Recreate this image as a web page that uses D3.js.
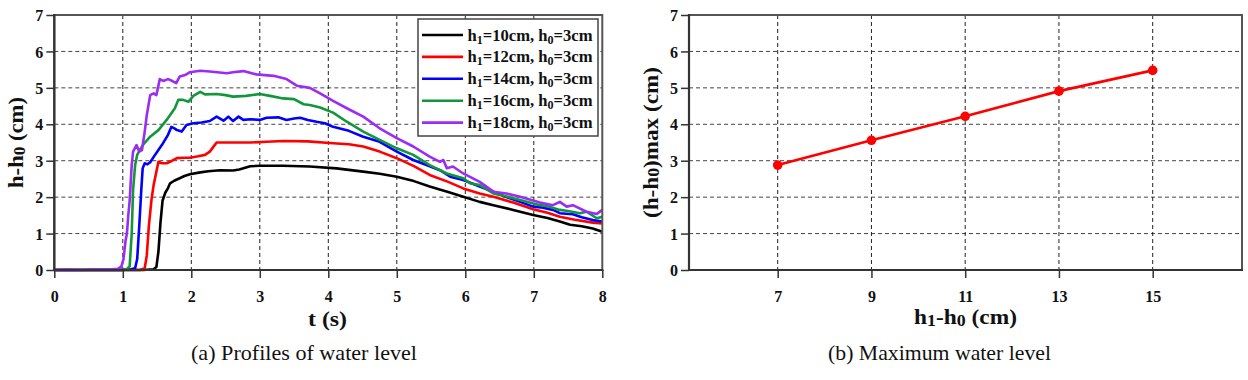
<!DOCTYPE html>
<html><head><meta charset="utf-8">
<script src="https://cdn.jsdelivr.net/npm/d3@7"></script>
<style>
body{margin:0;background:#fff}
svg{display:block}
text{font-family:"Liberation Serif","Times New Roman","Tinos","DejaVu Serif",serif}
</style>
</head><body>
<svg id="c" width="1248" height="380"></svg>
<script>
// ---------- data ----------
const h1Values = [10, 12, 14, 16, 18];
const seriesColors = ["#000000", "#ff0000", "#0000ff", "#12963c", "#9b2cf5"];

const tH10 = [0,0.5,1.0,1.3,1.45,1.49,1.52,1.55,1.58,1.62,1.66,1.69,1.75,1.83,1.9,1.98,2.13,2.25,2.42,2.61,2.7,2.86,3.0,3.34,3.73,4.12,4.51,4.75,5.0,5.25,5.48,5.75,5.97,6.21,6.41,6.7,6.99,7.2,7.38,7.53,7.7,7.86,8.0];
const hH10 = [0,0,0,0,0.02,0.08,0.5,1.3,1.9,2.12,2.25,2.38,2.45,2.52,2.58,2.63,2.68,2.71,2.74,2.73,2.76,2.85,2.86,2.86,2.84,2.79,2.70,2.64,2.56,2.44,2.29,2.14,2.01,1.87,1.78,1.65,1.51,1.43,1.33,1.24,1.2,1.14,1.05];

const tH12 = [0,1.0,1.25,1.32,1.35,1.38,1.42,1.45,1.49,1.52,1.57,1.64,1.72,1.79,1.9,1.98,2.1,2.2,2.27,2.33,2.37,2.5,2.86,3.1,3.34,3.7,4.07,4.3,4.51,4.75,5.0,5.25,5.48,5.75,5.97,6.21,6.41,6.7,6.99,7.2,7.38,7.6,7.86,8.0];
const hH12 = [0,0,0,0.05,0.4,1.2,1.95,2.33,2.7,2.97,2.93,2.93,3.0,3.07,3.08,3.08,3.12,3.16,3.25,3.4,3.5,3.5,3.5,3.52,3.54,3.53,3.48,3.45,3.39,3.25,3.07,2.85,2.61,2.42,2.24,2.1,2.01,1.85,1.67,1.57,1.46,1.38,1.30,1.28];

const tH14 = [0,1.0,1.12,1.18,1.21,1.24,1.27,1.29,1.32,1.36,1.40,1.47,1.57,1.66,1.71,1.76,1.79,1.86,1.93,2.03,2.15,2.27,2.37,2.47,2.54,2.61,2.69,2.76,2.86,3.0,3.1,3.27,3.39,3.5,3.59,3.7,3.83,3.95,4.07,4.3,4.51,4.75,5.0,5.24,5.48,5.63,5.78,5.97,6.21,6.41,6.6,6.8,6.99,7.1,7.28,7.38,7.57,7.7,7.86,8.0];
const hH14 = [0,0,0.02,0.05,0.3,1.2,2.2,2.79,2.93,2.9,2.96,3.16,3.43,3.71,3.93,3.88,3.84,3.80,3.98,4.03,4.05,4.09,4.21,4.10,4.21,4.09,4.21,4.12,4.14,4.12,4.18,4.19,4.12,4.16,4.18,4.12,4.07,4.03,3.93,3.82,3.66,3.52,3.25,3.02,2.85,2.74,2.56,2.47,2.29,2.15,2.0,1.87,1.74,1.72,1.65,1.56,1.53,1.45,1.37,1.33];

const tH16 = [0,1.0,1.06,1.10,1.13,1.15,1.18,1.21,1.25,1.30,1.40,1.52,1.64,1.76,1.81,1.88,1.96,2.03,2.13,2.2,2.37,2.5,2.61,2.8,3.0,3.15,3.34,3.5,3.64,3.73,3.88,4.07,4.27,4.51,4.75,5.0,5.24,5.48,5.73,5.97,6.07,6.21,6.41,6.6,6.8,7.09,7.2,7.38,7.5,7.67,7.77,7.92,8.0];
const hH16 = [0,0,0.03,0.1,1.0,2.2,2.88,3.16,3.3,3.45,3.66,3.84,4.12,4.44,4.67,4.67,4.62,4.78,4.89,4.82,4.83,4.80,4.76,4.78,4.83,4.78,4.71,4.69,4.55,4.53,4.46,4.32,4.07,3.8,3.57,3.34,3.16,2.88,2.65,2.52,2.38,2.33,2.1,2.02,1.92,1.78,1.75,1.65,1.62,1.56,1.60,1.42,1.46];

const tH18 = [0,0.2,0.4,0.6,0.8,0.93,0.98,1.01,1.04,1.06,1.08,1.10,1.13,1.15,1.20,1.24,1.28,1.32,1.35,1.40,1.45,1.49,1.54,1.59,1.66,1.71,1.78,1.83,1.91,1.98,2.13,2.27,2.52,2.61,2.76,2.95,3.2,3.39,3.54,3.73,3.88,4.07,4.27,4.51,4.75,5.0,5.24,5.48,5.63,5.68,5.73,5.82,5.97,6.21,6.41,6.6,6.8,7.09,7.28,7.38,7.48,7.57,7.77,7.92,8.0];
const hH18 = [0,0.01,0,0.02,0.01,0.03,0.1,0.3,0.8,1.0,1.5,1.9,2.88,3.25,3.43,3.25,3.29,3.8,4.25,4.8,4.85,4.8,5.24,5.19,5.24,5.2,5.13,5.31,5.35,5.43,5.47,5.45,5.40,5.43,5.46,5.37,5.33,5.24,5.06,5.0,4.85,4.64,4.44,4.21,3.89,3.62,3.39,3.11,2.97,3.02,2.79,2.84,2.65,2.42,2.15,2.1,2.01,1.85,1.78,1.87,1.74,1.78,1.6,1.54,1.65];

const seriesT = [tH10, tH12, tH14, tH16, tH18];
const seriesH = [hH10, hH12, hH14, hH16, hH18];

const tTicks = [0,1,2,3,4,5,6,7,8];
const hTicks = [0,1,2,3,4,5,6,7];

const diffValues = [7, 9, 11, 13, 15];
const maxValues = [2.88, 3.56, 4.22, 4.91, 5.48];

// ---------- drawing ----------
const svg = d3.select("#c");
const yTop = 15, yBot = 270;

function grid(g, x, y, xGrid) {
  const [xl, xr] = x.range();
  g.append("g").selectAll("line").data(hTicks.filter(v => v > 0 && v < 7)).join("line")
    .attr("x1", xl).attr("x2", xr).attr("y1", d => y(d)).attr("y2", d => y(d))
    .attr("stroke", "#444").attr("stroke-width", 1).attr("stroke-dasharray", "4,3");
  g.append("g").selectAll("line").data(xGrid).join("line")
    .attr("x1", d => x(d)).attr("x2", d => x(d)).attr("y1", yTop).attr("y2", yBot)
    .attr("stroke", "#222").attr("stroke-width", 1).attr("stroke-dasharray", "4,3");
}

function frame(g, x, y, xTicks) {
  const [xl, xr] = x.range();
  g.append("rect").attr("x", xl).attr("y", yTop).attr("width", xr - xl).attr("height", yBot - yTop)
    .attr("fill", "none").attr("stroke", "#555").attr("stroke-width", 2);
  g.append("line").attr("x1", xl).attr("x2", xl).attr("y1", yTop - 1).attr("y2", yBot + 1)
    .attr("stroke", "#333").attr("stroke-width", 2.2);
  g.append("line").attr("x1", xl - 1).attr("x2", xr + 1).attr("y1", yBot).attr("y2", yBot)
    .attr("stroke", "#333").attr("stroke-width", 2.2);
  const ya = g.append("g").attr("transform", `translate(${xl},0)`)
    .call(d3.axisLeft(y).tickValues(hTicks).tickSize(8).tickPadding(3).tickFormat(d3.format("d")));
  ya.select(".domain").remove();
  ya.selectAll("line").attr("stroke", "#333").attr("stroke-width", 1.5);
  ya.selectAll("text").attr("font-size", 16).attr("font-weight", "bold").attr("fill", "#111")
    .attr("dy", "0.35em");
  const xa = g.append("g").attr("transform", `translate(0,${yBot})`)
    .call(d3.axisBottom(x).tickValues(xTicks).tickSize(8).tickPadding(19).tickFormat(d3.format("d")));
  xa.select(".domain").remove();
  xa.selectAll("line").attr("stroke", "#333").attr("stroke-width", 1.5);
  xa.selectAll("text").attr("font-size", 16).attr("font-weight", "bold").attr("fill", "#111")
    .attr("dy", "0.3em");
}

// ---- left chart ----
const xL = d3.scaleLinear().domain([0, 8]).range([54.3, 602.3]);
const yL = d3.scaleLinear().domain([0, 7]).range([yBot, yTop]);
const gL = svg.append("g");
grid(gL, xL, yL, [1,2,3,4,5,6,7]);

const line = d3.line().x(d => xL(d[0])).y(d => yL(d[1]));
seriesT.forEach((ts, i) => {
  const pts = ts.map((t, j) => [t, seriesH[i][j]]);
  gL.append("path").datum(pts).attr("d", line).attr("fill", "none")
    .attr("stroke", seriesColors[i]).attr("stroke-width", 2.6).attr("stroke-linejoin", "round");
});
frame(gL, xL, yL, tTicks);

// legend
const lg = gL.append("g");
lg.append("rect").attr("x", 418).attr("y", 19).attr("width", 180).attr("height", 117)
  .attr("fill", "#fff").attr("stroke", "#444").attr("stroke-width", 1.5);
h1Values.forEach((h, i) => {
  const cy = 35 + i * 21.9;
  lg.append("line").attr("x1", 422).attr("x2", 463).attr("y1", cy).attr("y2", cy)
    .attr("stroke", seriesColors[i]).attr("stroke-width", 2.6);
  const t = lg.append("text").attr("x", 467.5).attr("y", cy + 5.5)
    .attr("font-size", 16.5).attr("font-weight", "bold").attr("fill", "#111")
    .attr("textLength", 125).attr("lengthAdjust", "spacingAndGlyphs");
  t.append("tspan").text("h");
  t.append("tspan").text("1").attr("font-size", 12).attr("dy", 3);
  t.append("tspan").text(`=${h}cm, h`).attr("dy", -3);
  t.append("tspan").text("0").attr("font-size", 12).attr("dy", 3);
  t.append("tspan").text("=3cm").attr("dy", -3);
});

// axis titles left
const ytl = gL.append("text").attr("transform", "translate(23,142.5) rotate(-90)")
  .attr("text-anchor", "middle").attr("font-size", 21).attr("font-weight", "bold").attr("fill", "#111")
  .attr("textLength", 91).attr("lengthAdjust", "spacingAndGlyphs");
ytl.append("tspan").text("h-h");
ytl.append("tspan").text("0").attr("font-size", 16).attr("dy", 2);
ytl.append("tspan").text(" (cm)").attr("dy", -2);
gL.append("text").attr("x", 327.5).attr("y", 326).attr("text-anchor", "middle")
  .attr("font-size", 21).attr("font-weight", "bold").attr("fill", "#111")
  .attr("textLength", 39).attr("lengthAdjust", "spacingAndGlyphs").text("t (s)");
gL.append("text").attr("x", 191).attr("y", 360).attr("font-size", 22)
  .attr("textLength", 226).attr("lengthAdjust", "spacingAndGlyphs").attr("fill", "#111")
  .text("(a) Profiles of water level");

// ---- right chart ----
const xR = d3.scaleLinear().domain([5.108, 16.905]).range([689, 1242]);
const yR = d3.scaleLinear().domain([0, 7]).range([yBot, yTop]);
const gR = svg.append("g");
grid(gR, xR, yR, diffValues);
const pts = diffValues.map((d, i) => [d, maxValues[i]]);
gR.append("path").datum(pts)
  .attr("d", d3.line().x(d => xR(d[0])).y(d => yR(d[1])))
  .attr("fill", "none").attr("stroke", "#ff0000").attr("stroke-width", 2.6);
gR.append("g").selectAll("circle").data(pts).join("circle")
  .attr("cx", d => xR(d[0])).attr("cy", d => yR(d[1])).attr("r", 4.8).attr("fill", "#ff0000");
frame(gR, xR, yR, diffValues);

const ytr = gR.append("text").attr("transform", "translate(658,142.5) rotate(-90)")
  .attr("text-anchor", "middle").attr("font-size", 21).attr("font-weight", "bold").attr("fill", "#111")
  .attr("textLength", 151).attr("lengthAdjust", "spacingAndGlyphs");
ytr.append("tspan").text("(h-h");
ytr.append("tspan").text("0").attr("font-size", 16).attr("dy", 1);
ytr.append("tspan").text(")max (cm)").attr("dy", -1);
const xtr = gR.append("text").attr("x", 965.5).attr("y", 324).attr("text-anchor", "middle")
  .attr("font-size", 21).attr("font-weight", "bold").attr("fill", "#111")
  .attr("textLength", 103).attr("lengthAdjust", "spacingAndGlyphs");
xtr.append("tspan").text("h");
xtr.append("tspan").text("1").attr("font-size", 16).attr("dy", 2);
xtr.append("tspan").text("-h").attr("dy", -2);
xtr.append("tspan").text("0").attr("font-size", 16).attr("dy", 2);
xtr.append("tspan").text(" (cm)").attr("dy", -2);
gR.append("text").attr("x", 828).attr("y", 360).attr("font-size", 22)
  .attr("textLength", 223).attr("lengthAdjust", "spacingAndGlyphs").attr("fill", "#111")
  .text("(b) Maximum water level");
</script>
</body></html>
